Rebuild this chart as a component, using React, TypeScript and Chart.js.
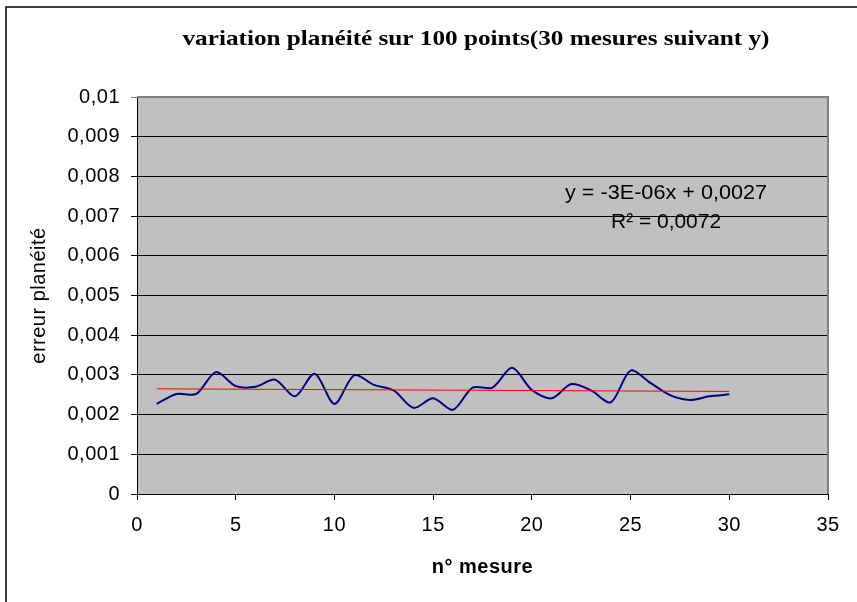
import { useEffect, useRef } from "react";
import { Chart, registerables } from "chart.js";

Chart.register(...registerables);

const measureNumbers = [
  1, 2, 3, 4, 5, 6, 7, 8, 9, 10, 11, 12, 13, 14, 15,
  16, 17, 18, 19, 20, 21, 22, 23, 24, 25, 26, 27, 28, 29, 30,
];
const flatnessErrors = [
  0.00227, 0.00252, 0.00252, 0.00307, 0.00272, 0.0027, 0.00288, 0.00246, 0.00303, 0.00227,
  0.00299, 0.00275, 0.00261, 0.00217, 0.00241, 0.00212, 0.00268, 0.00268, 0.00318, 0.00262,
  0.00241, 0.00277, 0.00261, 0.00231, 0.00311, 0.0028, 0.00249, 0.00237, 0.00246, 0.00251,
];
const xTickValues = [0, 5, 10, 15, 20, 25, 30, 35];
const yTickValues = [0, 0.001, 0.002, 0.003, 0.004, 0.005, 0.006, 0.007, 0.008, 0.009, 0.01];

const chartTitle = "variation planéité sur 100 points(30 mesures suivant y)";
const xAxisTitle = "n° mesure";
const yAxisTitle = "erreur planéité";
const trendEquation = "y = -3E-06x + 0,0027";
const trendR2 = "R² = 0,0072";

function linearFit(xs: number[], ys: number[]) {
  const n = xs.length;
  const mx = xs.reduce((a, b) => a + b, 0) / n;
  const my = ys.reduce((a, b) => a + b, 0) / n;
  let sxy = 0;
  let sxx = 0;
  for (let i = 0; i < n; i++) {
    sxy += (xs[i] - mx) * (ys[i] - my);
    sxx += (xs[i] - mx) * (xs[i] - mx);
  }
  const slope = sxy / sxx;
  return { slope, intercept: my - slope * mx };
}

function formatComma(v: number) {
  const s = Number(v).toFixed(3).replace(/\.?0+$/, "");
  return s.replace(".", ",");
}

const SANS = '"Liberation Sans", Arial, sans-serif';
const SERIF = '"Liberation Serif", "Times New Roman", serif';

function drawStretched(ctx: CanvasRenderingContext2D, text: string, cx: number, cy: number, targetWidth: number) {
  const w = ctx.measureText(text).width;
  const sx = targetWidth / w;
  ctx.save();
  ctx.translate(cx, cy);
  ctx.scale(sx, 1);
  ctx.fillText(text, 0, 0);
  ctx.restore();
}

const decorPlugin = {
  id: "decor",
  beforeDraw(chart: any) {
    const { ctx, chartArea: a } = chart;
    ctx.save();
    ctx.fillStyle = "#C0C0C0";
    ctx.fillRect(a.left, a.top, a.right - a.left, a.bottom - a.top);
    ctx.restore();
    try {
      (ctx as any).letterSpacing = "0.5px";
    } catch (e) {}
  },
  afterDraw(chart: any) {
    const { ctx, chartArea: a } = chart;
    ctx.save();
    try {
      (ctx as any).letterSpacing = "0px";
    } catch (e) {}
    // plot area top/right border
    ctx.strokeStyle = "#808080";
    ctx.lineWidth = 2;
    ctx.beginPath();
    ctx.moveTo(a.left, a.top);
    ctx.lineTo(a.right, a.top);
    ctx.lineTo(a.right, a.bottom);
    ctx.stroke();
    // outer frame (top and left)
    ctx.strokeStyle = "#000";
    ctx.lineWidth = 1.5;
    ctx.beginPath();
    ctx.moveTo(6, chart.height);
    ctx.lineTo(6, 7);
    ctx.lineTo(chart.width, 7);
    ctx.stroke();

    // title
    ctx.fillStyle = "#000";
    ctx.textAlign = "center";
    ctx.textBaseline = "middle";
    ctx.font = `bold 21px ${SERIF}`;
    drawStretched(ctx, chartTitle, 476, 40, 587);

    // trend annotation
    const w = a.right - a.left;
    const h = a.bottom - a.top;
    const cx = a.left + 0.7656 * w;
    ctx.font = `20px ${SANS}`;
    drawStretched(ctx, trendEquation, cx, a.top + 0.2418 * h, 202);
    drawStretched(ctx, trendR2, cx, a.top + 0.317 * h, 110);
    ctx.restore();
  },
};

export default function App() {
  const canvasRef = useRef<HTMLCanvasElement | null>(null);

  useEffect(() => {
    const canvas = canvasRef.current;
    if (!canvas) return;
    const fit = linearFit(measureNumbers, flatnessErrors);
    const x0 = measureNumbers[0];
    const x1 = measureNumbers[measureNumbers.length - 1];
    const trend = [
      { x: x0, y: fit.intercept + fit.slope * x0 },
      { x: x1, y: fit.intercept + fit.slope * x1 },
    ];
    const points = measureNumbers.map((x, i) => ({ x, y: flatnessErrors[i] }));

    const chart = new Chart(canvas, {
      type: "line",
      data: {
        datasets: [
          {
            label: "Linéaire",
            data: trend,
            borderColor: "#FF0000",
            borderWidth: 1,
            pointRadius: 0,
            tension: 0,
            fill: false,
          },
          {
            label: "erreur planéité",
            data: points,
            borderColor: "#000080",
            borderWidth: 2,
            pointRadius: 0,
            tension: 0.3,
            fill: false,
          },
        ],
      },
      options: {
        animation: false,
        responsive: false,
        devicePixelRatio: 1,
        layout: { padding: { left: 0, top: 97, right: 29, bottom: 0 } },
        plugins: {
          legend: { display: false },
          tooltip: { enabled: false },
          title: { display: false },
        },
        scales: {
          x: {
            type: "linear",
            min: 0,
            max: 35,
            afterBuildTicks: (s: any) => {
              s.ticks = xTickValues.map((v) => ({ value: v }));
            },
            afterFit: (s: any) => {
              s.height = 108;
            },
            ticks: {
              color: "#000",
              font: { family: SANS, size: 20 },
              padding: 13,
              maxRotation: 0,
              autoSkip: false,
              callback: (v: any) => formatComma(Number(v)),
            },
            grid: {
              drawOnChartArea: false,
              drawTicks: true,
              tickLength: 6,
              color: "#000",
            },
            border: { color: "#000", width: 1 },
            title: {
              display: true,
              text: xAxisTitle,
              color: "#000",
              font: { family: SANS, size: 20, weight: "bold" },
              padding: { top: 0, bottom: 23 },
            },
          },
          y: {
            type: "linear",
            min: 0,
            max: 0.01,
            afterBuildTicks: (s: any) => {
              s.ticks = yTickValues.map((v) => ({ value: v }));
            },
            afterFit: (s: any) => {
              s.width = 137;
            },
            ticks: {
              color: "#000",
              font: { family: SANS, size: 20 },
              padding: 11,
              autoSkip: false,
              callback: (v: any) => formatComma(Number(v)),
            },
            grid: {
              drawOnChartArea: true,
              drawTicks: true,
              tickLength: 6,
              color: (c: any) => (c.tick && c.tick.value >= 0.01 ? "#808080" : "#000"),
              lineWidth: 1,
            },
            border: { color: "#000", width: 1 },
            title: {
              display: true,
              text: yAxisTitle,
              color: "#000",
              font: { family: SANS, size: 20 },
              padding: { top: 27, bottom: 0 },
            },
          },
        },
      },
      plugins: [decorPlugin],
    });
    return () => chart.destroy();
  }, []);

  return (
    <div style={{ position: "absolute", left: 0, top: 0, width: 857, height: 602, background: "#fff" }}>
      <canvas ref={canvasRef} width={857} height={602} style={{ display: "block" }} />
    </div>
  );
}
